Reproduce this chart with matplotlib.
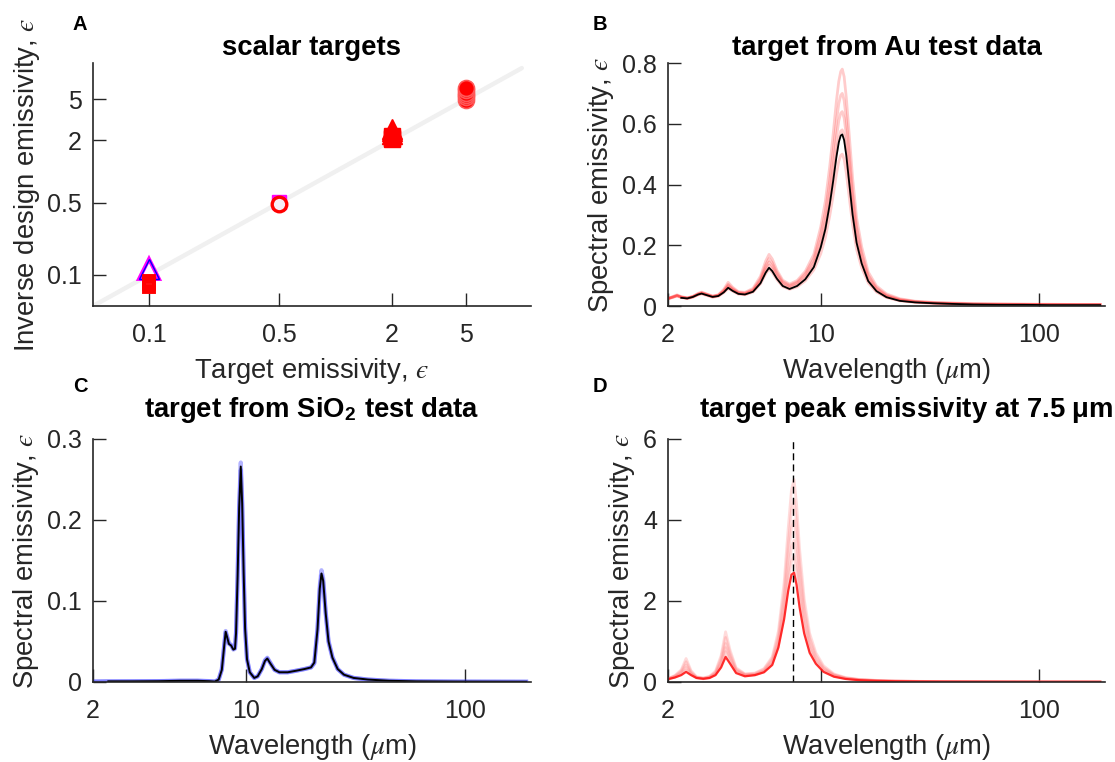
import numpy as np
import matplotlib
matplotlib.use("Agg")
import matplotlib.pyplot as plt
from matplotlib.ticker import FixedLocator, FixedFormatter, NullLocator

plt.rcParams['font.family'] = ['Liberation Sans', 'DejaVu Sans']
plt.rcParams['mathtext.fontset'] = 'custom'
plt.rcParams['mathtext.rm'] = 'Liberation Sans'
plt.rcParams['mathtext.bf'] = 'Liberation Sans:bold'
plt.rcParams['mathtext.it'] = 'STIXGeneral:italic'
plt.rcParams['mathtext.fallback'] = 'stix'

nan = np.nan
DARK = (0.15, 0.15, 0.15)

# ---- panel A: scalar targets (target vs. inverse design emissivity) ----
diag = [0.05, 10]
tri_open_x = [0.1]
tri_open_y = [0.115]
sq_mag_x = [0.5]
sq_mag_y = [0.51]
sq_red_open_x = [0.1, 0.1, 0.1]
sq_red_open_y = [0.077, 0.082, 0.087]
circ_open_x = [0.5]
circ_open_y = [0.48]
tri_red_x = [2, 2, 2]
tri_red_y = [2.30, 2.45, 2.60]
sq_red_x = [2, 2, 2]
sq_red_y = [2.05, 2.12, 2.20]
circ_red_x = [5, 5, 5, 5, 5, 5]
circ_red_y = [4.9, 5.2, 5.5, 5.8, 6.1, 6.4]
a_ticks = [0.1, 0.5, 2, 5]
a_ticklabels = ['0.1', '0.5', '2', '5']

# ---- panel B: Au test data ----
wl_b = [2.0, 2.1, 2.2, 2.3, 2.45, 2.6, 2.75, 2.85, 3.0, 3.2,
        3.4, 3.6, 3.77, 3.95, 4.2, 4.5, 4.9, 5.3, 5.6, 5.8,
        6.0, 6.3, 6.7, 7.2, 7.8, 8.5, 9.3,
        10.0, 10.5, 11.0, 11.4, 11.8, 12.1, 12.35, 12.55, 12.8, 13.1,
        13.5, 14.0, 14.6, 15.4,
        16.5, 18, 20, 23, 27, 33, 40, 50, 65, 85, 110, 150, 190]
au_target = [nan, nan, nan, 0.027, 0.025, 0.030, 0.038, 0.041, 0.036, 0.030,
             0.033, 0.045, 0.060, 0.050, 0.040, 0.038, 0.047, 0.075, 0.110, 0.126,
             0.115, 0.090, 0.066, 0.056, 0.066, 0.088, 0.128,
             0.193, 0.253, 0.335, 0.411, 0.491, 0.539, 0.561, 0.565, 0.546, 0.495,
             0.406, 0.300, 0.208, 0.140,
             0.082, 0.049, 0.029, 0.017, 0.012, 0.009, 0.007, 0.005, 0.004, 0.004, 0.003, 0.003, 0.003]
au_designs = [
    [0.025, 0.031, 0.037, 0.031, 0.027, 0.032, 0.042, 0.046, 0.040, 0.033,
     0.037, 0.055, 0.078, 0.062, 0.047, 0.045, 0.058, 0.098, 0.148, 0.170,
     0.155, 0.118, 0.085, 0.072, 0.084, 0.114, 0.170,
     0.260, 0.345, 0.460, 0.565, 0.675, 0.740, 0.772, 0.780, 0.755, 0.685,
     0.565, 0.420, 0.290, 0.195,
     0.112, 0.066, 0.040, 0.024, 0.016, 0.012, 0.010, 0.008, 0.007, 0.006, 0.006, 0.005, 0.005],
    [0.025, 0.030, 0.035, 0.030, 0.026, 0.031, 0.040, 0.044, 0.039, 0.032,
     0.036, 0.051, 0.071, 0.058, 0.045, 0.043, 0.054, 0.090, 0.135, 0.156,
     0.142, 0.110, 0.080, 0.068, 0.079, 0.106, 0.156,
     0.237, 0.310, 0.412, 0.508, 0.607, 0.667, 0.694, 0.700, 0.677, 0.614,
     0.505, 0.373, 0.260, 0.175,
     0.101, 0.060, 0.036, 0.022, 0.015, 0.011, 0.009, 0.007, 0.006, 0.006, 0.005, 0.005, 0.005],
    [0.024, 0.029, 0.034, 0.029, 0.026, 0.031, 0.039, 0.043, 0.038, 0.031,
     0.035, 0.049, 0.067, 0.055, 0.043, 0.041, 0.051, 0.084, 0.125, 0.145,
     0.132, 0.102, 0.075, 0.064, 0.075, 0.099, 0.145,
     0.217, 0.285, 0.378, 0.464, 0.555, 0.610, 0.635, 0.640, 0.619, 0.561,
     0.460, 0.341, 0.237, 0.160,
     0.093, 0.056, 0.033, 0.020, 0.014, 0.010, 0.008, 0.006, 0.006, 0.005, 0.005, 0.004, 0.004],
    [0.024, 0.029, 0.034, 0.029, 0.025, 0.030, 0.038, 0.042, 0.037, 0.030,
     0.034, 0.047, 0.063, 0.052, 0.041, 0.039, 0.049, 0.079, 0.117, 0.135,
     0.123, 0.096, 0.070, 0.060, 0.070, 0.092, 0.134,
     0.198, 0.259, 0.343, 0.421, 0.503, 0.553, 0.576, 0.580, 0.561, 0.508,
     0.417, 0.309, 0.215, 0.145,
     0.085, 0.051, 0.031, 0.019, 0.013, 0.009, 0.007, 0.006, 0.005, 0.005, 0.004, 0.004, 0.004],
    [0.024, 0.028, 0.033, 0.028, 0.025, 0.029, 0.037, 0.040, 0.035, 0.029,
     0.032, 0.044, 0.058, 0.049, 0.039, 0.037, 0.046, 0.073, 0.106, 0.122,
     0.111, 0.087, 0.064, 0.055, 0.063, 0.083, 0.119,
     0.172, 0.225, 0.297, 0.364, 0.434, 0.477, 0.496, 0.500, 0.483, 0.438,
     0.360, 0.267, 0.186, 0.126,
     0.076, 0.046, 0.028, 0.017, 0.012, 0.009, 0.007, 0.005, 0.005, 0.004, 0.004, 0.004, 0.004],
]

# ---- panel C: SiO2 test data ----
wl_c = [2.0, 2.35, 3.0, 4.0, 5.0, 6.0, 6.8, 7.2, 7.5, 7.75,
        7.95, 8.07, 8.2, 8.35, 8.55, 8.75, 8.9, 9.0, 9.15, 9.3,
        9.46, 9.6, 9.75, 9.9, 10.1, 10.4, 10.9, 11.3, 11.8, 12.2,
        12.5, 12.9, 13.5, 14.2, 15.5, 17, 18.5, 19.8, 20.5, 21.2,
        21.7, 22.1, 22.5, 23.1, 23.8, 24.8, 26.2, 28, 31, 36,
        45, 60, 90, 130, 190]
sio2_target = [nan, 0.0008, 0.0008, 0.0010, 0.0015, 0.0015, 0.0010, 0.0005, 0.003, 0.015,
               0.045, 0.062, 0.055, 0.047, 0.045, 0.040, 0.041, 0.060, 0.130, 0.215,
               0.266, 0.220, 0.135, 0.066, 0.028, 0.012, 0.005, 0.007, 0.016, 0.026,
               0.029, 0.023, 0.015, 0.012, 0.012, 0.014, 0.016, 0.018, 0.024, 0.065,
               0.115, 0.134, 0.125, 0.085, 0.050, 0.030, 0.016, 0.009, 0.005, 0.003,
               0.0015, 0.0008, 0.0005, 0.0004, 0.0003]
sio2_designs = [
    [0.0006, 0.0008, 0.0009, 0.0011, 0.0016, 0.0016, 0.0011, 0.0006, 0.003, 0.016,
     0.046, 0.063, 0.056, 0.048, 0.046, 0.041, 0.042, 0.061, 0.133, 0.219,
     0.271, 0.224, 0.138, 0.068, 0.029, 0.012, 0.005, 0.007, 0.016, 0.027,
     0.030, 0.024, 0.015, 0.012, 0.012, 0.014, 0.016, 0.018, 0.024, 0.067,
     0.118, 0.138, 0.128, 0.087, 0.051, 0.031, 0.016, 0.009, 0.005, 0.003,
     0.0015, 0.0008, 0.0005, 0.0004, 0.0003],
    [0.0005, 0.0007, 0.0008, 0.0010, 0.0015, 0.0015, 0.0010, 0.0005, 0.003, 0.015,
     0.045, 0.061, 0.055, 0.047, 0.045, 0.040, 0.041, 0.060, 0.129, 0.212,
     0.262, 0.217, 0.133, 0.065, 0.028, 0.012, 0.005, 0.007, 0.016, 0.026,
     0.029, 0.023, 0.015, 0.012, 0.012, 0.014, 0.016, 0.018, 0.023, 0.064,
     0.113, 0.132, 0.123, 0.084, 0.049, 0.030, 0.016, 0.009, 0.005, 0.003,
     0.0015, 0.0008, 0.0005, 0.0004, 0.0003],
]

# ---- panel D: peak emissivity target at 7.5 um ----
peak_wl = 7.5
wl_d = [2.0, 2.15, 2.3, 2.42, 2.55, 2.7, 2.9, 3.1, 3.3, 3.5,
        3.67, 3.85, 4.1, 4.5, 5.0, 5.5, 6.0, 6.4, 6.8, 7.1,
        7.35, 7.55, 7.75, 8.0, 8.4, 8.9, 9.5, 10.3, 11.5, 13,
        15, 18, 22, 28, 36, 50, 70, 100, 140, 190]
peak_main = [0.07, 0.11, 0.17, 0.25, 0.17, 0.10, 0.08, 0.10, 0.17, 0.36,
             0.62, 0.45, 0.22, 0.14, 0.17, 0.24, 0.42, 0.85, 1.55, 2.25,
             2.65, 2.70, 2.40, 1.85, 1.20, 0.72, 0.45, 0.25, 0.13, 0.075,
             0.045, 0.028, 0.018, 0.012, 0.008, 0.006, 0.004, 0.003, 0.003, 0.002]
peak_designs = [
    [0.08, 0.16, 0.30, 0.58, 0.28, 0.13, 0.10, 0.14, 0.27, 0.65,
     1.24, 0.78, 0.35, 0.20, 0.22, 0.33, 0.62, 1.25, 2.45, 3.80,
     4.75, 5.00, 4.40, 3.30, 2.05, 1.20, 0.72, 0.40, 0.20, 0.11,
     0.065, 0.04, 0.025, 0.016, 0.011, 0.008, 0.006, 0.005, 0.004, 0.003],
    [0.08, 0.15, 0.27, 0.50, 0.25, 0.12, 0.09, 0.13, 0.24, 0.58,
     1.10, 0.70, 0.32, 0.19, 0.21, 0.31, 0.57, 1.13, 2.20, 3.40,
     4.25, 4.50, 3.95, 2.95, 1.85, 1.08, 0.65, 0.36, 0.18, 0.10,
     0.06, 0.037, 0.023, 0.015, 0.010, 0.007, 0.005, 0.004, 0.004, 0.003],
    [0.08, 0.14, 0.24, 0.42, 0.22, 0.11, 0.09, 0.12, 0.22, 0.50,
     0.95, 0.62, 0.29, 0.18, 0.19, 0.28, 0.52, 1.02, 1.98, 3.05,
     3.80, 4.00, 3.52, 2.63, 1.65, 0.97, 0.58, 0.33, 0.17, 0.095,
     0.055, 0.034, 0.021, 0.014, 0.009, 0.007, 0.005, 0.004, 0.003, 0.003],
    [0.07, 0.13, 0.21, 0.36, 0.20, 0.11, 0.08, 0.11, 0.20, 0.45,
     0.85, 0.56, 0.27, 0.17, 0.18, 0.26, 0.48, 0.93, 1.78, 2.70,
     3.33, 3.50, 3.10, 2.33, 1.47, 0.87, 0.53, 0.30, 0.16, 0.09,
     0.052, 0.032, 0.02, 0.013, 0.009, 0.006, 0.005, 0.004, 0.003, 0.003],
    [0.07, 0.12, 0.19, 0.30, 0.19, 0.10, 0.08, 0.10, 0.19, 0.40,
     0.75, 0.50, 0.25, 0.16, 0.17, 0.25, 0.45, 0.88, 1.65, 2.50,
     2.98, 3.10, 2.75, 2.08, 1.33, 0.80, 0.49, 0.28, 0.15, 0.085,
     0.05, 0.03, 0.019, 0.012, 0.008, 0.006, 0.004, 0.003, 0.003, 0.002],
]

wl_ticks = [2, 10, 100]
wl_ticklabels = ['2', '10', '100']

TICK_FS = 18
LABEL_FS = 19.8
eps = '$\u03f5$'


def style_axes(ax):
    for side in ('top', 'right'):
        ax.spines[side].set_visible(False)
    for side in ('left', 'bottom'):
        ax.spines[side].set_color(DARK)
        ax.spines[side].set_linewidth(1.2)
    ax.tick_params(which='major', direction='in', length=9.5, width=1.0,
                   color=DARK, labelcolor=DARK, labelsize=TICK_FS)
    ax.tick_params(axis='x', pad=12)
    ax.tick_params(axis='y', pad=8)
    ax.xaxis.set_minor_locator(NullLocator())
    ax.yaxis.set_minor_locator(NullLocator())


def wavelength_axis(ax):
    ax.set_xscale('log')
    ax.set_xlim(2, 200)
    ax.xaxis.set_major_locator(FixedLocator(wl_ticks))
    ax.xaxis.set_major_formatter(FixedFormatter(wl_ticklabels))
    ax.xaxis.set_minor_locator(NullLocator())
    ax.set_xlabel(r'Wavelength ($\mu$m)', fontsize=LABEL_FS, color=DARK, labelpad=7)
    ax.set_ylabel('Spectral emissivity, ' + eps, fontsize=LABEL_FS, color=DARK, labelpad=4)


fig = plt.figure(figsize=(11.15, 7.62), dpi=100)
axA = fig.add_axes([0.0834, 0.5984, 0.3928, 0.3189])
axB = fig.add_axes([0.5991, 0.5984, 0.3919, 0.3189])
axC = fig.add_axes([0.0834, 0.1050, 0.3928, 0.3189])
axD = fig.add_axes([0.5991, 0.1050, 0.3919, 0.3189])

# A
axA.plot(diag, diag, color=(0.94, 0.94, 0.94), lw=3.2, solid_capstyle='round', zorder=1)
axA.plot(tri_open_x, tri_open_y, ls='none', marker='^', ms=14, mfc='white', mec='magenta', mew=2.8)
axA.plot(tri_open_x, tri_open_y, ls='none', marker='^', ms=15, mfc='none', mec='blue', mew=1.0)
axA.plot(sq_mag_x, sq_mag_y, ls='none', marker='s', ms=10, mfc='magenta', mec='magenta')
for x, y in zip(sq_red_open_x, sq_red_open_y):
    axA.plot([x], [y], ls='none', marker='s', ms=7.8, mfc='none', mec='red', mew=2.8)
axA.plot(circ_open_x, circ_open_y, ls='none', marker='o', ms=10.5, mfc=(0.97, 0.93, 0.97), mec='red', mew=2.4)
axA.plot(sq_red_x, sq_red_y, ls='none', marker='s', ms=11, mfc='red', mec='red')
axA.plot(tri_red_x, tri_red_y, ls='none', marker='^', ms=15, mfc='red', mec='red')
axA.plot(circ_red_x, circ_red_y, ls='none', marker='o', ms=11.5, mfc='red', mec=(1, 0.35, 0.35), mew=1.2)
axA.set_xscale('log')
axA.set_yscale('log')
axA.set_xlim(0.05, 11.2)
axA.set_ylim(0.05, 11.2)
style_axes(axA)
for axis in (axA.xaxis, axA.yaxis):
    axis.set_major_locator(FixedLocator(a_ticks))
    axis.set_major_formatter(FixedFormatter(a_ticklabels))
    axis.set_minor_locator(NullLocator())
axA.set_xlabel('Target emissivity, ' + eps, fontsize=LABEL_FS, color=DARK, labelpad=7)
axA.set_ylabel('Inverse design emissivity, ' + eps, fontsize=LABEL_FS, color=DARK, labelpad=4)
axA.set_title('scalar targets', fontsize=LABEL_FS, fontweight='bold', pad=6)

# B
for d in au_designs:
    axB.plot(wl_b, d, color='red', alpha=0.2, lw=2.0)
axB.plot(wl_b, au_target, color='black', lw=1.3)
wavelength_axis(axB)
axB.set_ylim(0, 0.8)
axB.set_yticks([0, 0.2, 0.4, 0.6, 0.8])
axB.set_yticklabels(['0', '0.2', '0.4', '0.6', '0.8'])
style_axes(axB)
axB.set_title('target from Au test data', fontsize=LABEL_FS, fontweight='bold', pad=6)

# C
for d in sio2_designs:
    axC.plot(wl_c, d, color=(0.15, 0.15, 1.0), alpha=0.35, lw=3.0)
axC.plot(wl_c, sio2_target, color='black', lw=1.4)
wavelength_axis(axC)
axC.set_ylim(0, 0.3)
axC.set_yticks([0, 0.1, 0.2, 0.3])
axC.set_yticklabels(['0', '0.1', '0.2', '0.3'])
style_axes(axC)
axC.set_title(r'target from SiO$_{\mathbf{2}}$ test data', fontsize=LABEL_FS,
              fontweight='bold', pad=16)

# D
for d in peak_designs:
    axD.plot(wl_d, d, color=(1.0, 0.45, 0.45), alpha=0.25, lw=2.0)
axD.plot(wl_d, peak_main, color=(1.0, 0.05, 0.05), alpha=0.85, lw=1.6)
axD.axvline(peak_wl, color='black', ls=(0, (5, 3)), lw=1.0)
wavelength_axis(axD)
axD.set_ylim(0, 6)
axD.set_yticks([0, 2, 4, 6])
axD.set_yticklabels(['0', '2', '4', '6'])
style_axes(axD)
axD.set_title(r'target peak emissivity at 7.5 $\mathbf{\mu}$m', fontsize=LABEL_FS,
              fontweight='bold', pad=16, x=0.545)

# panel letters
for letter, (px, py) in zip('ABCD', [(80, 25), (600, 24), (80, 387), (600, 387)]):
    fig.text(px / 1115, 1 - py / 762, letter, fontsize=14.5, fontweight='bold',
             ha='center', va='center')

fig.savefig('out.png', dpi=100)
